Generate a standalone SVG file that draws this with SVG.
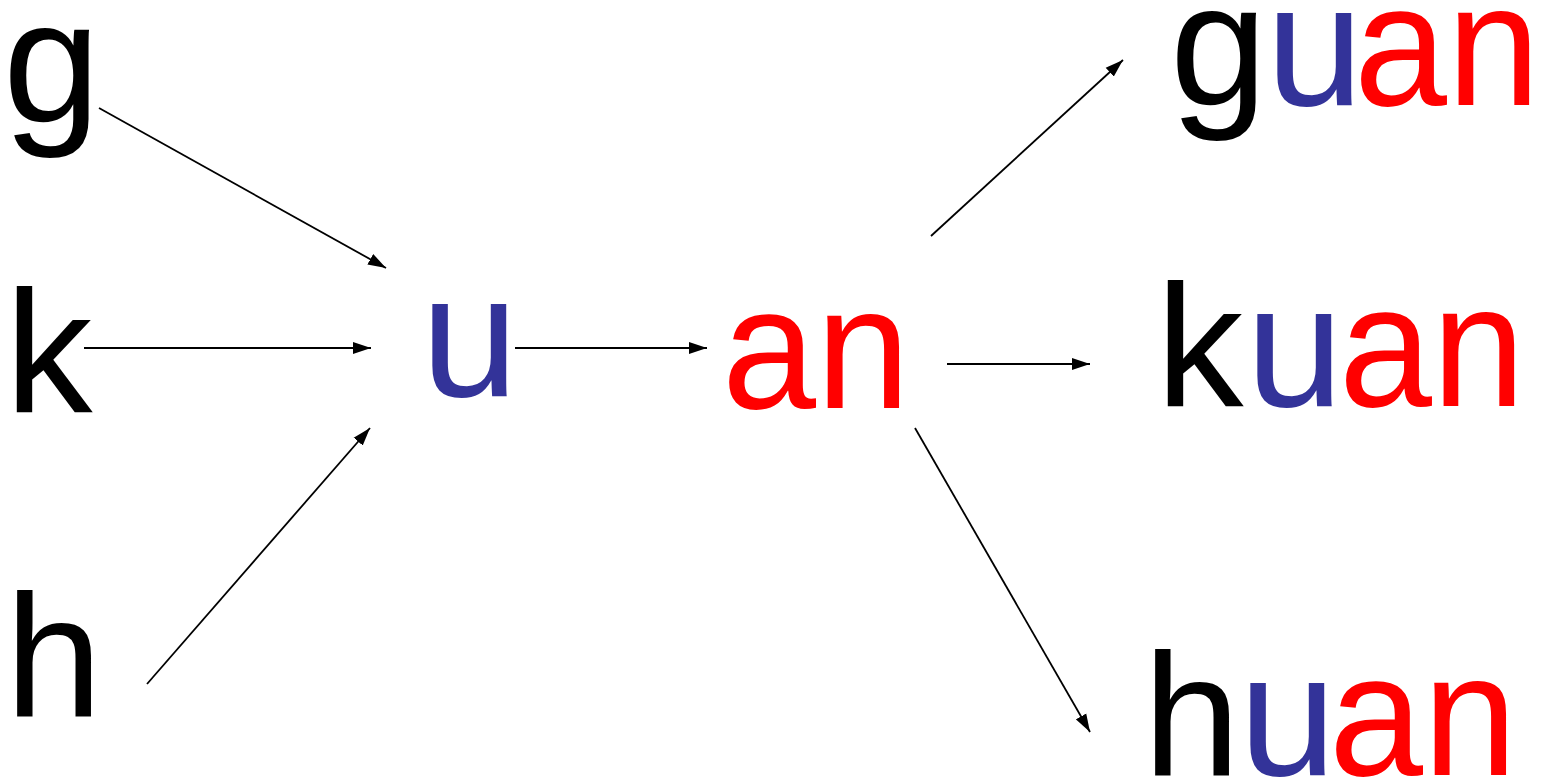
<svg xmlns="http://www.w3.org/2000/svg" width="1548" height="783" viewBox="0 0 1548 783">
<style>
.t{font-family:"Liberation Sans",Arial,sans-serif;font-size:175px;}
.b{fill:#000000;}
.u{fill:#333399;}
.r{fill:#ff0000;}
.c line{stroke:#000;stroke-width:1.8;fill:none;marker-end:url(#ah);}
</style>
<defs>
<marker id="ah" markerUnits="userSpaceOnUse" markerWidth="19" markerHeight="13" refX="18" refY="6" orient="auto" viewBox="0 0 19 12">
<path d="M0,0 L18,6 L0,12 Z" fill="#000"/>
</marker>
</defs>
<rect width="1548" height="783" fill="#fff"/>
<g id="node-g"><text class="t b" x="3" y="122">g</text></g>
<g id="node-k"><text class="t b" x="5" y="412">k</text></g>
<g id="node-h"><text class="t b" x="5" y="716">h</text></g>
<g id="node-u"><text class="t u" x="421" y="396">u</text></g>
<g id="node-an"><text class="t r" x="722" y="408" textLength="188" lengthAdjust="spacingAndGlyphs">an</text></g>
<g id="node-guan"><text class="t" x="1168" y="105"><tspan class="b" x="1170">g</tspan><tspan class="u" x="1266">u</tspan><tspan class="r" x="1354" textLength="186" lengthAdjust="spacingAndGlyphs">an</tspan></text></g>
<g id="node-kuan"><text class="t" x="1156" y="406"><tspan class="b" x="1156">k</tspan><tspan class="u" x="1246">u</tspan><tspan class="r" x="1339" textLength="186" lengthAdjust="spacingAndGlyphs">an</tspan></text></g>
<g id="node-huan"><text class="t" x="1143" y="775"><tspan class="b" x="1143">h</tspan><tspan class="u" x="1239">u</tspan><tspan class="r" x="1329" textLength="188" lengthAdjust="spacingAndGlyphs">an</tspan></text></g>
<g id="connectors" class="c">
<line x1="99" y1="108" x2="386" y2="268"/>
<line x1="84" y1="348" x2="371" y2="348"/>
<line x1="147" y1="684" x2="370" y2="428"/>
<line x1="515" y1="348" x2="707" y2="348"/>
<line x1="931" y1="236" x2="1123" y2="60"/>
<line x1="947" y1="364" x2="1090" y2="364"/>
<line x1="915" y1="428" x2="1090" y2="732"/>
</g>
</svg>
